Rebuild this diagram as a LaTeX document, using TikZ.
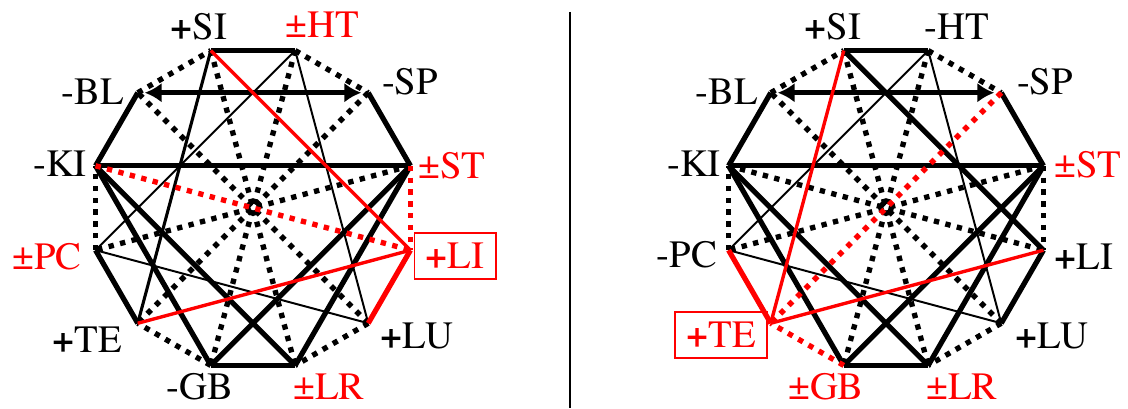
\documentclass[tikz,border=0pt]{standalone}
\usepackage{fontspec}
\setmainfont{texgyretermes}[Extension=.otf, UprightFont=*-regular, BoldFont=*-bold]
\usetikzlibrary{arrows.meta}

\tikzset{
  rim/.style={line width=3.7pt},
  chord/.style={line width=3.7pt},
  midchord/.style={line width=2.2pt},
  thinchord/.style={line width=1.4pt},
  dotline/.style={line width=3.8pt, dash pattern=on 3.8pt off 4.6pt},
  redline/.style={red, line width=2.4pt},
  redrim/.style={red, line width=3.7pt},
  reddot/.style={red, dotline},
  twoway/.style={line width=3.7pt, {Latex[length=12pt,width=14pt]}-{Latex[length=12pt,width=14pt]},
    shorten <=5pt, shorten >=5pt},
  lbl/.style={font=\fontsize{27.5}{32}\selectfont, inner sep=0pt},
  boxlbl/.style={lbl, text=red, draw=red, line width=1.4pt, inner xsep=8pt, inner ysep=7pt},
}
\newcommand{\pl}{{\bfseries +}}

\begin{document}
\begin{tikzpicture}[x=0.025cm, y=0.025cm]
    \useasboundingbox (0,0) rectangle (1128,408);

    % Corners of both rings (L = left ring, R = right ring)
    \foreach \n/\a in {SI/105, HT/75, SP/45, ST/15, LI/-15, LU/-45,
                       LR/-75, GB/-105, TE/-135, PC/-165, KI/165, BL/135} {
        \coordinate (L\n) at ([shift={(253,200)}]\a:163);
        \coordinate (R\n) at ([shift={(886,200)}]\a:163);
    }

    % Divider
    \coordinate (cuttop) at (570,396);
    \coordinate (cutbot) at (570,0);
    \draw[line width=1.2pt] (cuttop) -- (cutbot);

    % Black dotted rim and diameters
    \foreach \r in {L,R} {
        \draw[dotline] (\r HT) -- (\r SP);
        \draw[dotline] (\r LU) -- (\r LR);
        \draw[dotline] (\r PC) -- (\r KI);
        \draw[dotline] (\r BL) -- (\r SI);
        \draw[dotline] (\r SI) -- (\r LR);
        \draw[dotline] (\r HT) -- (\r GB);
        \draw[dotline] (\r ST) -- (\r PC);
        \draw[dotline] (\r LU) -- (\r BL);
    }
    \draw[dotline] (LGB) -- (LTE);
    \draw[dotline] (LSP) -- (LTE);
    \draw[dotline] (RST) -- (RLI);
    \draw[dotline] (RKI) -- (RLI);

    % Thick rim, thick and thin chords
    \foreach \r in {L,R} {
        \draw[rim] (\r SI) -- (\r HT);
        \draw[rim] (\r SP) -- (\r ST);
        \draw[rim] (\r LR) -- (\r GB);
        \draw[rim] (\r KI) -- (\r BL);
        \draw[chord] (\r KI) -- (\r ST);
        \draw[chord] (\r KI) -- (\r GB);
        \draw[chord] (\r KI) -- (\r LR);
        \draw[chord] (\r ST) -- (\r GB);
        \draw[chord] (\r ST) -- (\r LR);
        \draw[thinchord] (\r HT) -- (\r PC);
        \draw[thinchord] (\r HT) -- (\r LU);
        \draw[thinchord] (\r PC) -- (\r LU);
        \draw[twoway] (\r BL) -- (\r SP);
    }
    \draw[rim] (LTE) -- (LPC);
    \draw[midchord] (LSI) -- (LTE);
    \draw[rim] (RLI) -- (RLU);
    \draw[chord] (RSI) -- (RLI);

    % Red edges: all edges of LI (left) and of TE (right)
    \draw[reddot] (LST) -- (LLI);
    \draw[reddot] (LKI) -- (LLI);
    \draw[redrim] (LLI) -- (LLU);
    \draw[redline] (LSI) -- (LLI);
    \draw[redline] (LTE) -- (LLI);
    \draw[reddot] (RGB) -- (RTE);
    \draw[reddot] (RSP) -- (RTE);
    \draw[redrim] (RTE) -- (RPC);
    \draw[redline] (RSI) -- (RTE);
    \draw[redline] (RTE) -- (RLI);

    % Left labels
    \node[lbl] (lsi) at (199,381) {\pl SI};
    \node[lbl, text=red] (lht) at (322,383) {±HT};
    \node[lbl] (lsp) at (410,326) {-SP};
    \node[lbl, text=red] (lst) at (452,242) {±ST};
    \node[boxlbl] (lli) at (455,152) {\pl LI};
    \node[lbl] (llu) at (417,72) {\pl LU};
    \node[lbl, text=red] (llr) at (329,21) {±LR};
    \node[lbl] (lgb) at (200,21) {-GB};
    \node[lbl] (lte) at (87,68) {\pl TE};
    \node[lbl, text=red] (lpc) at (47,151) {±PC};
    \node[lbl] (lki) at (60,244) {-KI};
    \node[lbl] (lbl) at (93,316) {-BL};

    % Right labels
    \node[lbl] (rsi) at (833,381) {\pl SI};
    \node[lbl] (rht) at (957,381) {-HT};
    \node[lbl] (rsp) at (1045,326) {-SP};
    \node[lbl, text=red] (rst) at (1088,243) {±ST};
    \node[lbl] (rli) at (1084,151) {\pl LI};
    \node[lbl] (rlu) at (1052,72) {\pl LU};
    \node[lbl, text=red] (rlr) at (962,21) {±LR};
    \node[lbl, text=red] (rgb) at (826,21) {±GB};
    \node[boxlbl] (rte) at (721,73) {\pl TE};
    \node[lbl] (rpc) at (687,153) {-PC};
    \node[lbl] (rki) at (694,244) {-KI};
    \node[lbl] (rbl) at (727,316) {-BL};
\end{tikzpicture}
\end{document}
